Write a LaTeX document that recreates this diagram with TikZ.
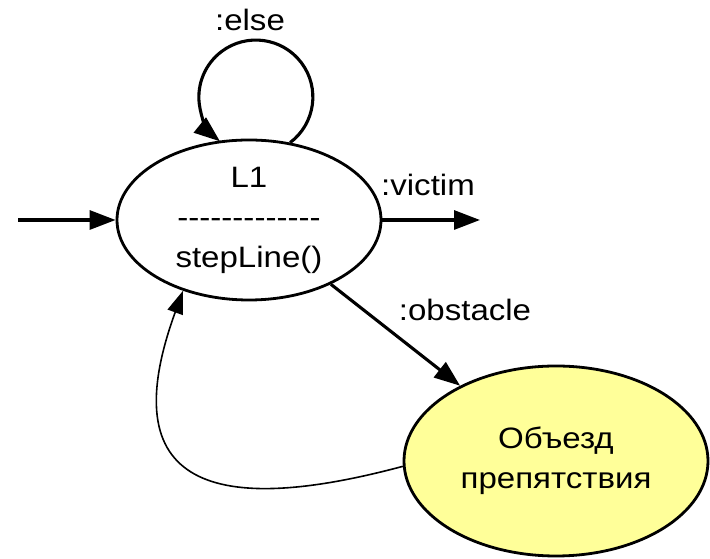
\documentclass[tikz,border=0pt]{standalone}
\usepackage{fontspec}
\setmainfont{Liberation Sans}[Ligatures=TeXOff, FakeStretch=1.12]
\usetikzlibrary{arrows.meta,shapes.geometric}
\begin{document}
\begin{tikzpicture}[x=1pt,y=1pt,
  state/.style={ellipse, draw, line width=2.8pt, inner sep=0pt, align=center},
  trans/.style={line width=3.1pt, -{Triangle[length=26pt,width=19pt]}},
  thinback/.style={line width=1.6pt, -{Triangle[length=23pt,width=16pt]}},
  lbl/.style={font=\fontsize{29.5}{34}\selectfont, inner sep=0pt}]
\useasboundingbox (0,0) rectangle (710,559);

% states
\node[state, minimum width=264pt, minimum height=160pt,
      font=\fontsize{29.5}{40}\selectfont] (L1) at (249,339)
  {L1\\-------------\\stepLine()};
\node[state, minimum width=304pt, minimum height=190pt, fill={rgb,255:red,255;green,255;blue,153},
      font=\fontsize{29.5}{40}\selectfont] (L2) at (556,98)
  {Объезд\\препятствия};

% free ends of the entry and exit arrows
\coordinate (in0) at (18,339);
\coordinate (out0) at (480,339);

% transitions
\draw[trans] (in0) -- (L1.west);
\draw[trans] (L1.east) -- (out0);
\draw[trans] (L1.62) arc[start angle=-53, end angle=231, radius=57];
\draw[trans] (L1) -- (L2);
\draw[thinback] (L2.182) .. controls +(195:180) and +(250:220) .. (L1.227);

% transition labels
\node[lbl] (lelse) at (250,539) {:else};
\node[lbl] (lvictim) at (428,374) {:victim};
\node[lbl] (lobst) at (465,249) {:obstacle};
\end{tikzpicture}
\end{document}
